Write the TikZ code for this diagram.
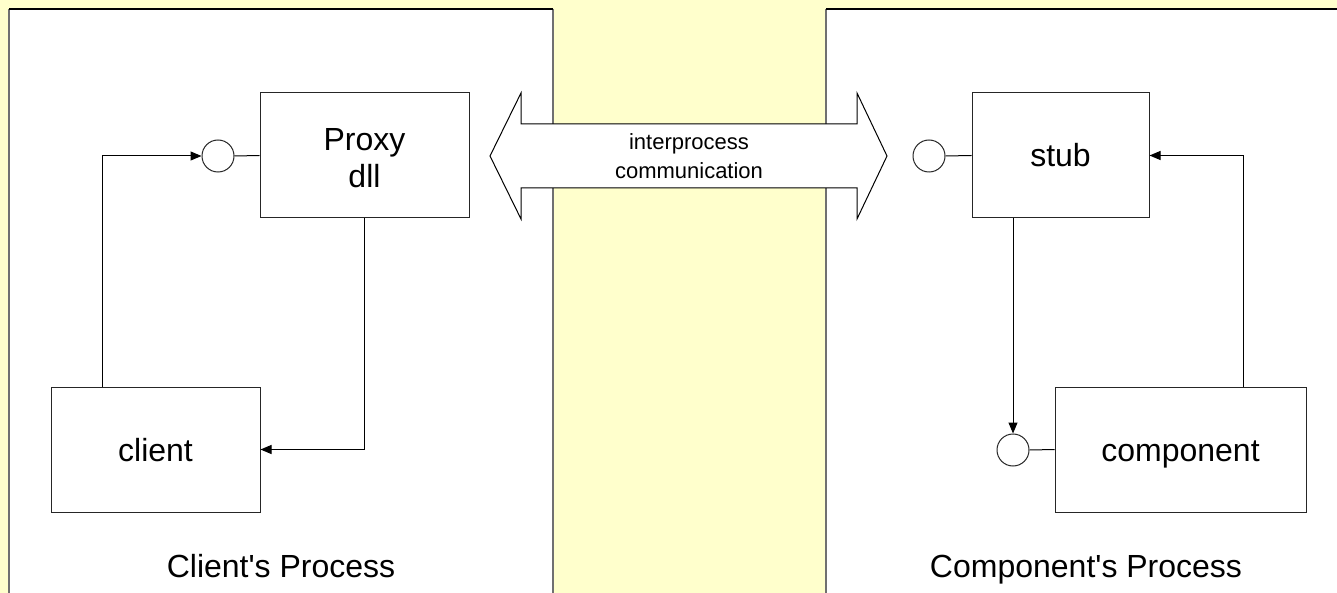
\documentclass[tikz,border=0pt]{standalone}
\usepackage{fontspec}
\setmainfont{Liberation Sans}
\usetikzlibrary{arrows.meta}
\definecolor{bgyellow}{RGB}{255,255,204}
\definecolor{edgegray}{RGB}{112,112,112}
\begin{document}
\begin{tikzpicture}[x=1pt,y=-1pt,
  box/.style={draw=black!85, line width=1pt, fill=white, inner sep=0pt, align=center,
              font=\fontsize{32}{37}\selectfont},
  port/.style={circle, draw=black!85, line width=1pt, fill=white, minimum size=32pt, inner sep=0pt},
  link/.style={draw=black, line width=1pt},
  flow/.style={link, -{Triangle[length=11pt,width=9pt]}},
  sideedge/.style={draw=edgegray, line width=1.6pt},
  topedge/.style={draw=black, line width=1.6pt},
  caption/.style={font=\fontsize{32}{34}\selectfont, anchor=base},
  boxtext/.style={fill=none, draw=none, inner sep=0pt, anchor=base, align=center,
              font=\fontsize{32}{37}\selectfont},
  ipc/.style={fill=white, draw=black, line width=1pt, line join=miter}]

% page background
\fill[bgyellow] (0,0) rectangle (1337,593);
\useasboundingbox (0,0) rectangle (1337,593);

% the two process areas
\fill[white] (9,9) rectangle (553,593);
\fill[white] (826,9) rectangle (1337,593);
\draw[sideedge] (9,593) -- (9,9);
\draw[sideedge] (553,9) -- (553,593);
\draw[topedge] (9,9) -- (553,9);
\draw[sideedge] (826,593) -- (826,9);
\draw[topedge] (826,9) -- (1337,9);

% interprocess communication channel
\draw[ipc] (490,156) -- (521,93) -- (521,124) -- (857,124) -- (857,93)
  -- (887,156) -- (857,219) -- (857,188) -- (521,188) -- (521,219) -- cycle;
\node[align=center, font=\fontsize{22}{29}\selectfont] (ipclabel) at (689,156)
  {interprocess\\communication};

% client side
\node[box, minimum width=209pt, minimum height=125pt] (proxy) at (364.5,155.5) {};
\node[boxtext] (proxytext) at (364.5,188) {Proxy\\dll};
\node[box, minimum width=209pt, minimum height=125pt] (client) at (155.5,449.5) {};
\node[boxtext] (clienttext) at (155.5,461) {client};
\node[port] (cport) at (218,156) {};
\draw[link] (cport.east) -- (proxy.west);
\draw[flow] ([xshift=-53pt]client.north) |- (cport.west);
\draw[flow] (proxy.south) |- (client.east);
\node[caption] (clientproc) at (281,577) {Client\textquotesingle s Process};

% component side
\node[box, minimum width=177pt, minimum height=125pt] (stub) at (1060.5,155.5) {};
\node[boxtext] (stubtext) at (1060.5,167) {stub};
\node[box, minimum width=251pt, minimum height=125pt] (component) at (1180.5,449.5) {};
\node[boxtext] (comptext) at (1180.5,461) {component};
\node[port] (sport) at (929,156) {};
\node[port] (kport) at (1013,450) {};
\draw[link] (sport.east) -- (stub.west);
\draw[link] (kport.east) -- (component.west);
\draw[flow] ([xshift=-47.5pt]stub.south) -- (kport.north);
\draw[flow] ([xshift=62.5pt]component.north) |- (stub.east);
\node[caption] (compproc) at (1086,577) {Component\textquotesingle s Process};
\end{tikzpicture}
\end{document}
